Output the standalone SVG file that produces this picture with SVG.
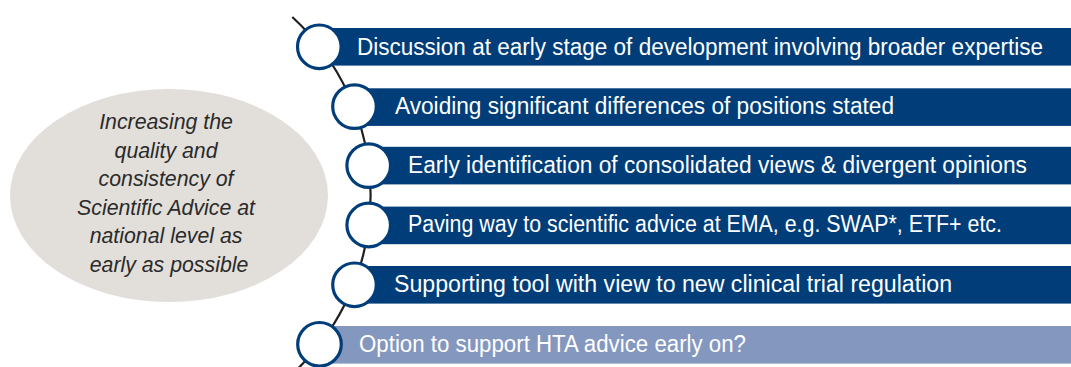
<svg xmlns="http://www.w3.org/2000/svg" width="1071" height="367" viewBox="0 0 1071 367">
  <style>
    .bar { fill: #003d79; }
    .bar-light { fill: #8497be; }
    .dot { fill: #ffffff; stroke: #003d79; stroke-width: 3.2; }
    .label { font-family: "Liberation Sans", Arial, sans-serif; font-size: 23px; fill: #ffffff; }
    .goal { font-family: "Liberation Sans", Arial, sans-serif; font-size: 21.3px; font-style: italic; fill: #2a2a2a; text-anchor: middle; }
    .spine { fill: none; stroke: #231f20; stroke-width: 2.2; }
  </style>

  <!-- goal ellipse -->
  <g id="goal">
    <ellipse cx="169" cy="195.5" rx="159" ry="106.5" fill="#e2dfdb"/>
    <text class="goal">
      <tspan x="169" y="129">Increasing the</tspan>
      <tspan x="169" y="157.6">quality and</tspan>
      <tspan x="169" y="186.2">consistency of</tspan>
      <tspan x="169" y="214.8">Scientific Advice at</tspan>
      <tspan x="169" y="243.4">national level as</tspan>
      <tspan x="169" y="272">early as possible</tspan>
    </text>
  </g>

  <!-- curved spine linking the bullet circles -->
  <g id="connectors">
    <path class="spine" d="M 292.3 17 A 242.6 242.6 0 0 1 294.4 372"/>
  </g>

  <g id="item1">
    <rect class="bar" x="319" y="28" width="752" height="37.6"/>
    <circle class="dot" cx="319.3" cy="46.8" r="21.8"/>
    <text class="label" x="357" y="54.5" textLength="686" lengthAdjust="spacingAndGlyphs">Discussion at early stage of development involving broader expertise</text>
  </g>

  <g id="item2">
    <rect class="bar" x="354" y="88.3" width="717" height="37.6"/>
    <circle class="dot" cx="354.5" cy="106.6" r="21.8"/>
    <text class="label" x="395" y="114" textLength="499" lengthAdjust="spacingAndGlyphs">Avoiding significant differences of positions stated</text>
  </g>

  <g id="item3">
    <rect class="bar" x="368" y="146.8" width="703" height="37.6"/>
    <circle class="dot" cx="368.7" cy="165.6" r="21.8"/>
    <text class="label" x="408" y="173.3" textLength="619" lengthAdjust="spacingAndGlyphs">Early identification of consolidated views &amp; divergent opinions</text>
  </g>

  <g id="item4">
    <rect class="bar" x="368" y="206.6" width="703" height="37.6"/>
    <circle class="dot" cx="368.7" cy="225" r="21.8"/>
    <text class="label" x="408" y="231.6" textLength="594" lengthAdjust="spacingAndGlyphs">Paving way to scientific advice at EMA, e.g. SWAP*, ETF+ etc.</text>
  </g>

  <g id="item5">
    <rect class="bar" x="354" y="266" width="717" height="37.6"/>
    <circle class="dot" cx="354.5" cy="284.8" r="21.8"/>
    <text class="label" x="394" y="292.3" textLength="558" lengthAdjust="spacingAndGlyphs">Supporting tool with view to new clinical trial regulation</text>
  </g>

  <g id="item6">
    <rect class="bar-light" x="319" y="326" width="752" height="37.6"/>
    <circle class="dot" cx="319.5" cy="344.3" r="21.8"/>
    <text class="label" x="359" y="352" textLength="387" lengthAdjust="spacingAndGlyphs">Option to support HTA advice early on?</text>
  </g>
</svg>
